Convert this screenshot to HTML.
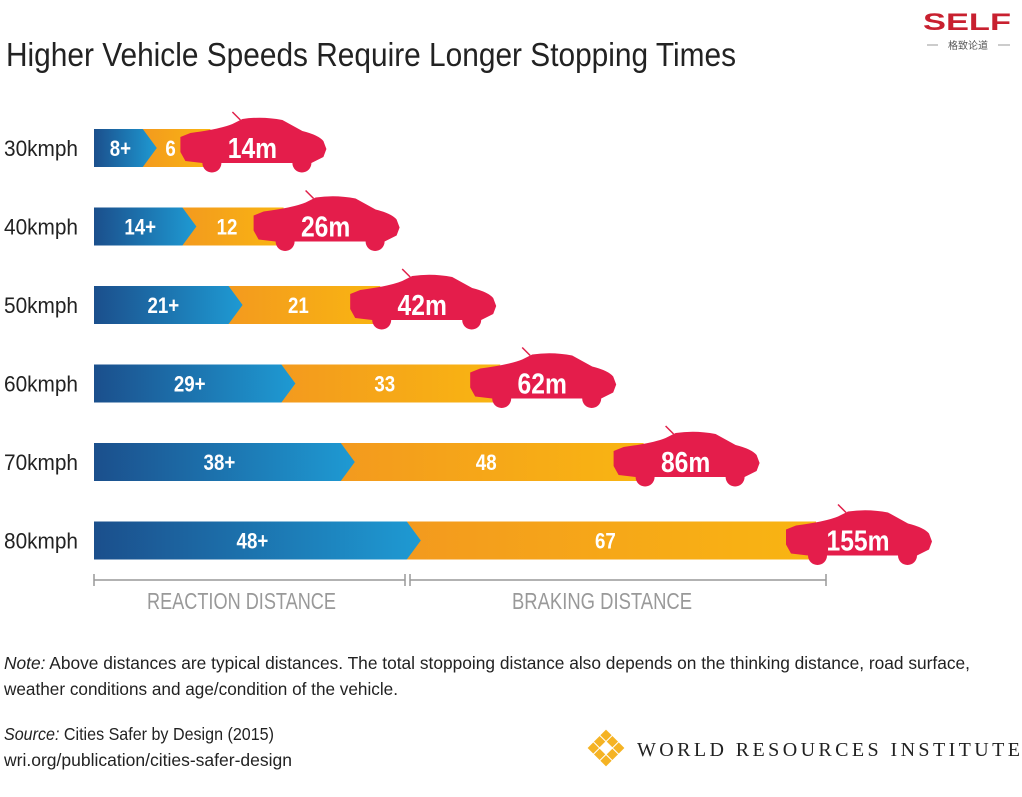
<!DOCTYPE html>
<html><head><meta charset="utf-8"><style>
body{margin:0;background:#fff;width:1022px;height:797px;overflow:hidden;font-family:"Liberation Sans",sans-serif}
svg{position:absolute;left:0;top:0}
</style></head><body>
<svg width="1022" height="797">
<defs>
<linearGradient id="gb" x1="0" x2="1" y1="0" y2="0"><stop offset="0" stop-color="#1b4f8c"/><stop offset="1" stop-color="#1e9ad3"/></linearGradient>
<linearGradient id="go" x1="0" x2="1" y1="0" y2="0"><stop offset="0" stop-color="#f39a1e"/><stop offset="1" stop-color="#f9b512"/></linearGradient>
</defs>
<text x="6" y="66" font-size="33" fill="#222" textLength="730" lengthAdjust="spacingAndGlyphs">Higher Vehicle Speeds Require Longer Stopping Times</text>
<g>
<text x="923" y="30" font-family="Liberation Sans" font-weight="bold" font-size="24" fill="#c8202f" textLength="88" lengthAdjust="spacingAndGlyphs">SELF</text>
<line x1="927" y1="45" x2="938" y2="45" stroke="#999"/><line x1="998" y1="45" x2="1010" y2="45" stroke="#999"/>
<text x="968" y="49" font-family="Noto Sans CJK SC,sans-serif" font-size="10" fill="#555" text-anchor="middle">格致论道</text>
</g>
<g id="bars"></g>
<g stroke="#999" stroke-width="1.5">
<line x1="94" y1="580" x2="405" y2="580"/><line x1="94" y1="574" x2="94" y2="586"/><line x1="405" y1="574" x2="405" y2="586"/>
<line x1="410" y1="580" x2="826" y2="580"/><line x1="410" y1="574" x2="410" y2="586"/><line x1="826" y1="574" x2="826" y2="586"/>
</g>
<text x="147" y="609" font-size="23" fill="#999" textLength="189" lengthAdjust="spacingAndGlyphs">REACTION DISTANCE</text>
<text x="512" y="609" font-size="23" fill="#999" textLength="180" lengthAdjust="spacingAndGlyphs">BRAKING DISTANCE</text>
<text x="4" y="669" font-size="17.5" fill="#222" textLength="966" lengthAdjust="spacingAndGlyphs"><tspan font-style="italic">Note:</tspan> Above distances are typical distances. The total stoppoing distance also depends on the thinking distance, road surface,</text>
<text x="4" y="695" font-size="17.5" fill="#222" textLength="394" lengthAdjust="spacingAndGlyphs">weather conditions and age/condition of the vehicle.</text>
<text x="4" y="740" font-size="17.5" fill="#222" textLength="270" lengthAdjust="spacingAndGlyphs"><tspan font-style="italic">Source:</tspan> Cities Safer by Design (2015)</text>
<text x="4" y="766" font-size="17.5" fill="#222" textLength="288" lengthAdjust="spacingAndGlyphs">wri.org/publication/cities-safer-design</text>
<g>
<g fill="#f5b324" transform="translate(606,748) rotate(45)">
<rect x="-13" y="-13" width="8" height="8"/><rect x="-4" y="-13" width="8" height="8"/><rect x="5" y="-13" width="8" height="8"/>
<rect x="-13" y="-4" width="8" height="8"/><rect x="5" y="-4" width="8" height="8"/>
<rect x="-13" y="5" width="8" height="8"/><rect x="-4" y="5" width="8" height="8"/><rect x="5" y="5" width="8" height="8"/>
</g>
<text x="637" y="756" font-family="Liberation Serif" font-size="20" fill="#222" textLength="383" lengthAdjust="spacing">WORLD RESOURCES INSTITUTE</text>
</g>
</svg>
<script>
const speeds=["30kmph","40kmph","50kmph","60kmph","70kmph","80kmph"];
const reaction=[8,14,21,29,38,48];
const braking=[6,12,21,33,48,67];
const totals=["14m","26m","42m","62m","86m","155m"];
const x0=94, rs=6.6, bs=5.6, rowY0=129, rowStep=78.5, bh=38;
const g=document.getElementById('bars');
const NS='http://www.w3.org/2000/svg';
function mk(t,a,p){const e=document.createElementNS(NS,t);for(const k in a)e.setAttribute(k,a[k]);(p||g).appendChild(e);return e;}
const carPath="M0,20 L10,16 Q40,12 52,7 L62,2 Q82,-1 102,3 L122,14 Q138,18 143,24 L146,32 L143,40 L131,46 A9.5,9.5 0 0 1 112,46 L41,46 A9.5,9.5 0 0 1 22,46 L5,44 L0,35 Z";
function ctext(parent,x,y,size,str){
  const t=mk('text',{transform:`translate(${x},${y}) scale(0.85,1)`,'font-size':size,'font-weight':'bold',fill:'#fff','text-anchor':'middle'},parent);
  t.textContent=str;return t;
}
speeds.forEach((s,i)=>{
  const y=rowY0+i*rowStep, xr=x0+reaction[i]*rs+10, cx=xr+braking[i]*bs-10, xb=cx+30;
  const row=mk('g',{});
  
  
  const lab=mk('text',{x:4,y:y+bh/2+8,'font-size':22,fill:'#222',textLength:74,lengthAdjust:'spacingAndGlyphs'},row);lab.textContent=s;
  
  
  const ob=mk('rect',{x:xr-14,y:y,width:xb-xr+14,height:bh,fill:'url(#go)'},row);
  
  
  const rb=mk('path',{d:`M${x0},${y} L${xr-14},${y} L${xr},${y+bh/2} L${xr-14},${y+bh} L${x0},${y+bh} Z`,fill:'url(#gb)'},row);
  
  
  const rt=ctext(row,(x0+xr-10)/2,y+bh/2+8,22,reaction[i]+'+');
  
  
  const bt=ctext(row,(xr+cx)/2+2,y+bh/2+8,22,braking[i]);
  
  
  const car=mk('g',{transform:`translate(${cx},${y-12})`},row);
  
  
  mk('line',{x1:60,y1:3,x2:52,y2:-5,stroke:'#e0204a','stroke-width':1.5},car);
  mk('path',{d:carPath,fill:'#e41d4b'},car);
  const tt=ctext(car,72,41,29,totals[i]);
  
  
});
</script>
</body></html>
